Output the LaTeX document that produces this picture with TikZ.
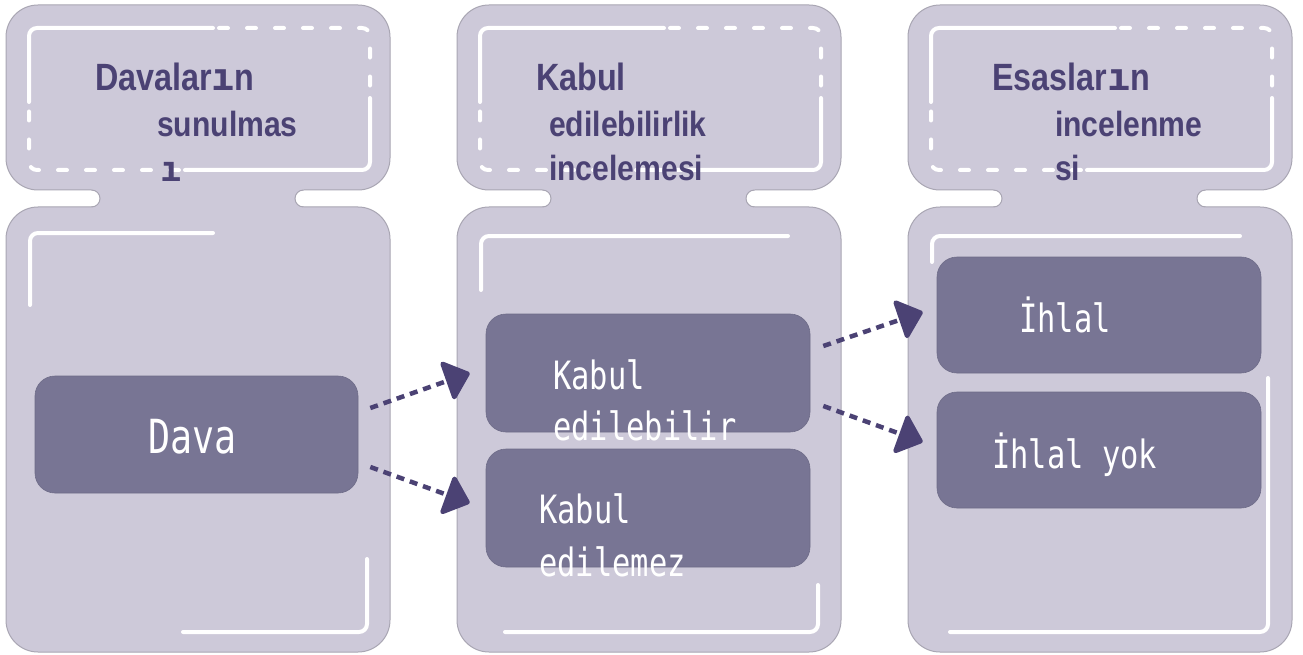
\documentclass[tikz,border=0pt]{standalone}
\usepackage{fontspec}
\usetikzlibrary{arrows.meta}
\newfontfamily\headfont[FakeStretch=0.86]{Liberation Sans}
\newfontfamily\titlefont[FakeStretch=0.85]{Liberation Sans}
\newfontfamily\monofont[FakeStretch=0.78]{DejaVu Sans Mono}
\newfontfamily\monoglyph{DejaVu Sans Mono}
\definecolor{colfill}{HTML}{CDC9D9}
\definecolor{coledge}{HTML}{A9A6B3}
\definecolor{boxfill}{HTML}{787594}
\definecolor{ink}{HTML}{4B4274}
\newcommand{\monobit}[1]{{\monoglyph\bfseries #1}}
\tikzset{
  colpart/.style={fill=colfill, draw=coledge, line width=1pt, rounded corners=32pt},
  notchedge/.style={draw=coledge, line width=1pt},
  frameline/.style={draw=white, line width=4pt, line cap=round, rounded corners=8pt},
  framedash/.style={frameline, dash pattern=on 9pt off 19pt, dash phase=22pt},
  stagebox/.style={rectangle, rounded corners=20pt, fill=boxfill, draw=boxfill!92!black,
    line width=0.6pt, inner sep=0pt, minimum width=324pt, minimum height=117pt},
  headtext/.style={anchor=base west, inner sep=0pt, text=ink,
    font=\headfont\bfseries\fontsize{35}{42}\selectfont},
  titletext/.style={headtext, font=\titlefont\bfseries\fontsize{38}{45}\selectfont},
  boxtext/.style={anchor=base west, inner sep=0pt, text=white,
    font=\monofont\fontsize{39}{46}\selectfont},
  bigboxtext/.style={boxtext, font=\monofont\fontsize{47}{56}\selectfont},
  flow/.style={draw=ink, line width=4.5pt, dash pattern=on 8pt off 6pt,
    -{Triangle[length=26pt,width=44pt,round]}}
}
\begin{document}
\begin{tikzpicture}[x=1pt, y=-1pt]
\useasboundingbox (0,0) rectangle (1303,655);
\fill[white] (0,0) rectangle (1303,655);

% three column panels: header, body and the neck joining them
\foreach \dx in {0,451,902}{
  \begin{scope}[shift={(\dx,0)}]
    \draw[colpart] (6,5) rectangle (390,190);
    \draw[colpart] (6,207) rectangle (390,652);
    \fill[colfill] (91.5,184) -- (303.5,184) -- (303.5,190)
      arc[start angle=-90, end angle=-270, radius=8.5] -- (303.5,213)
      -- (91.5,213) -- (91.5,207)
      arc[start angle=90, end angle=-90, radius=8.5] -- cycle;
    \draw[notchedge] (303.5,190) arc[start angle=-90, end angle=-270, radius=8.5];
    \draw[notchedge] (91.5,207) arc[start angle=90, end angle=-90, radius=8.5];
    % header frame: two solid runs and two dashed runs
    \draw[frameline] (29,102) -- (29,28) -- (213,28);
    \draw[framedash] (213,28) -- (370,28) -- (370,95);
    \draw[frameline] (370,98) -- (370,170) -- (185,170);
    \draw[framedash] (185,170) -- (29,170) -- (29,100);
  \end{scope}
}

% corner brackets inside the bodies
\draw[frameline] (30,305) -- (30,233) -- (213,233);
\draw[frameline] (367,559) -- (367,632) -- (183,632);
\draw[frameline] (481,290) -- (481,236) -- (788,236);
\draw[frameline] (818,585) -- (818,632) -- (505,632);
\draw[frameline] (932,262) -- (932,236) -- (1240,236);
\draw[frameline] (1268,378) -- (1268,632) -- (950,632);

% headers
\node[titletext] (h1a) at (95,91) {Davalar\monobit{ı}n};
\node[headtext] (h1b) at (157,137) {sunulmas};
\node[headtext] (h1c) at (160,182) {\monobit{ı}};
\node[titletext] (h2a) at (536,91) {Kabul};
\node[headtext] (h2b) at (549,137) {edilebilirlik};
\node[headtext] (h2c) at (549,181) {incelemesi};
\node[titletext] (h3a) at (992,91) {Esaslar\monobit{ı}n};
\node[headtext] (h3b) at (1055,137) {incelenme};
\node[headtext] (h3c) at (1055,181) {si};

% stage boxes
\node[stagebox, minimum width=323pt] (dava) at (196.5,434.5) {};
\node[stagebox, minimum height=118pt] (kabulA) at (648,373) {};
\node[stagebox, minimum height=118pt] (kabulB) at (648,508) {};
\node[stagebox, minimum height=116pt] (ihlal) at (1099,315) {};
\node[stagebox, minimum height=116pt] (ihlalyok) at (1099,450) {};

% stage labels
\node[bigboxtext] (tdava) at (148,453) {Dava};
\node[boxtext] (tka1) at (553,389) {Kabul};
\node[boxtext] (tka2) at (553,440) {edilebilir};
\node[boxtext] (tkb1) at (539,523) {Kabul};
\node[boxtext] (tkb2) at (539,576) {edilemez};
\node[boxtext] (tih) at (1019,332) {İhlal};
\node[boxtext] (tihy) at (992,468) {İhlal yok};

% flows between stages
\draw[flow] ([shift={(12,-26.5)}]dava.east) -- ([shift={(-16,0)}]kabulA.west);
\draw[flow] ([shift={(12,32.5)}]dava.east) -- ([shift={(-16,-5)}]kabulB.west);
\draw[flow] ([shift={(13,-27)}]kabulA.east) -- ([shift={(-14,-3)}]ihlal.west);
\draw[flow] ([shift={(13,33)}]kabulA.east) -- ([shift={(-14,-8)}]ihlalyok.west);
\end{tikzpicture}
\end{document}
